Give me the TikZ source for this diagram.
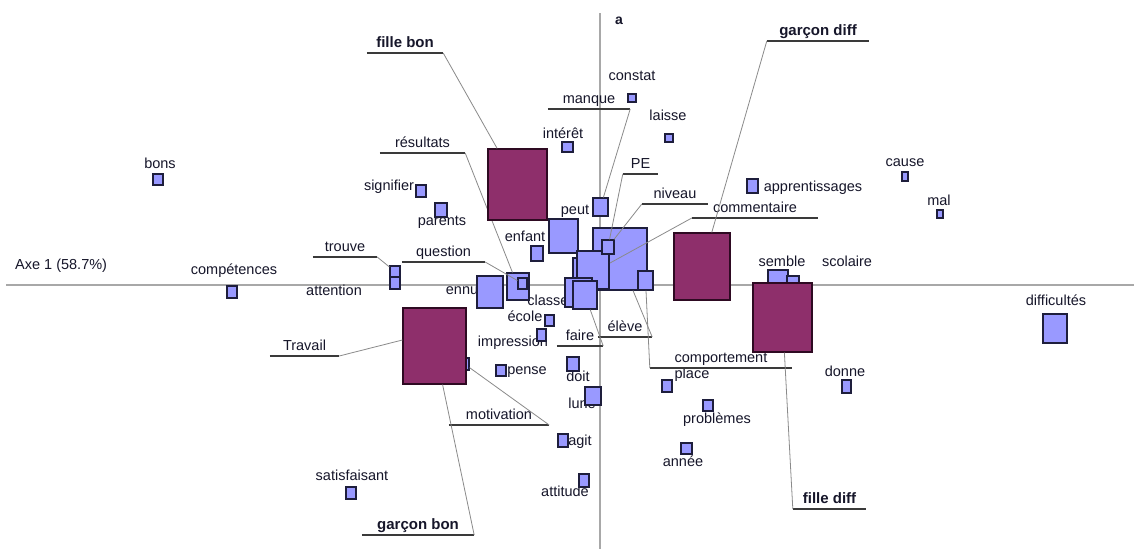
\documentclass[tikz,border=0pt]{standalone}
\usepackage{fontspec}
\setmainfont{Liberation Sans}
\usetikzlibrary{fit,calc}
\definecolor{wfill}{HTML}{9999FF}
\definecolor{wline}{HTML}{1E1E3C}
\definecolor{whalo}{HTML}{C4C4FF}
\definecolor{pfill}{HTML}{8E2F6B}
\definecolor{pline}{HTML}{2E0A22}
\definecolor{phalo}{HTML}{C77FA8}
\definecolor{axisc}{HTML}{A8A8A8}
\definecolor{leadc}{HTML}{8A8A8A}
\definecolor{ulc}{HTML}{3A3A3A}
\definecolor{txtc}{HTML}{16162A}
\tikzset{
  wbox/.style={draw=wline, fill=wfill, line width=1.2pt, inner sep=0pt, preaction={draw=whalo, line width=2.6pt}},
  pbox/.style={draw=pline, fill=pfill, line width=1.2pt, inner sep=0pt, preaction={draw=phalo, line width=2.4pt}},
  lbl/.style={font=\fontsize{14.5}{17}\selectfont, text=txtc, inner sep=0pt, text height=10.5pt, text depth=3pt},
  ullbl/.style={lbl, anchor=south, inner xsep=0pt, inner ysep=1.6pt, text depth=3.4pt},
  grp/.style={font=\fontsize{15}{18}\selectfont\bfseries},
  ulline/.style={draw=ulc, line width=1.1pt},
  lead/.style={draw=leadc, line width=0.8pt},
  axisline/.style={draw=axisc, line width=1.3pt}
}
\newcommand\wsq[5]{\node[wbox, fit={(#2,#3) (#4,#5)}] (#1) {};}
\newcommand\psq[5]{\node[pbox, fit={(#2,#3) (#4,#5)}] (#1) {};}
\newcommand\lab[4]{\node[lbl] (#1) at (#2,#3) {#4};}
\newcommand\ulab[6][]{\node[ullbl, #1, minimum width={#4-#3}] (#2) at ({(#3+#4)/2},#5) {#6};
  \draw[ulline] (#2.south west) -- (#2.south east);}
\begin{document}
\begin{tikzpicture}[x=1pt,y=-1pt]
\fill[white] (0,0) rectangle (1134,549);
\useasboundingbox (0,0) rectangle (1134,549);
% axes
\coordinate (ax1a) at (6,285);
\coordinate (ax1b) at (1134,285);
\coordinate (ax2a) at (600,13);
\coordinate (ax2b) at (600,549);
\draw[axisline] (ax1a) -- (ax1b);
\draw[axisline] (ax2a) -- (ax2b);
\node[lbl, anchor=west] (axe1) at (15,266) {Axe 1 (58.7\%)};
\node[lbl, font=\fontsize{14}{16}\selectfont\bfseries] (axe2) at (619,21) {a};
% plain labels
\lab{bons}{160}{165}{bons}
\lab{compet}{234}{271}{compétences}
\lab{attention}{334}{292}{attention}
\lab{signifier}{389}{187}{signifier}
\lab{parents}{442}{222}{parents}
\lab{enfant}{525}{238}{enfant}
\lab{ennu}{462}{291}{ennu}
\lab{classe}{548}{302}{classe}
\lab{ecole}{525}{318}{école}
\lab{impression}{513}{343}{impression}
\lab{pense}{527}{371}{pense}
\lab{doit}{578}{378}{doit}
\lab{lune}{582}{405}{lune}
\lab{agit}{580}{442}{agit}
\lab{attitude}{565}{493}{attitude}
\lab{satisf}{352}{477}{satisfaisant}
\lab{annee}{683}{463}{année}
\lab{problemes}{717}{420}{problèmes}
\lab{place}{692}{375}{place}
\lab{donne}{845}{373}{donne}
\lab{interet}{563}{135}{intérêt}
\lab{constat}{632}{77}{constat}
\lab{laisse}{668}{117}{laisse}
\lab{peut}{575}{211}{peut}
\lab{apprent}{813}{188}{apprentissages}
\lab{cause}{905}{163}{cause}
\lab{mal}{939}{202}{mal}
\lab{semble}{782}{263}{semble}
\lab{scolaire}{847}{263}{scolaire}
\lab{difficultes}{1056}{302}{difficultés}
% underlined labels
\ulab[grp]{fillebon}{367}{443}{53}{fille bon}
\ulab{resultats}{380}{465}{153}{résultats}
\ulab{manque}{548}{630}{109}{manque}
\ulab{PE}{623}{658}{174}{PE}
\ulab{niveau}{642}{708}{204}{niveau}
\ulab{comment}{692}{818}{218}{commentaire}
\ulab[grp]{garcondiff}{767}{869}{41}{garçon diff}
\ulab{trouve}{313}{377}{257}{trouve}
\ulab{question}{402}{485}{262}{question}
\ulab{travail}{270}{339}{356}{Travail}
\ulab{motivation}{449}{549}{425}{motivation}
\ulab[grp]{garconbon}{362}{474}{535}{garçon bon}
\ulab{faire}{557}{603}{346}{faire}
\ulab{eleve}{598}{652}{337}{élève}
\ulab{comport}{650}{792}{368}{comportement}
\ulab[grp]{fillediff}{793}{866}{509}{fille diff}
% word squares
\wsq{sq-bons}{153}{174}{163}{185}
\wsq{sq-compet}{227}{286}{237}{298}
\wsq{sq-trouve}{390}{266}{400}{277}
\wsq{sq-attention}{390}{277}{400}{289}
\wsq{sq-signifier}{416}{185}{426}{197}
\wsq{sq-parents}{435}{203}{447}{217}
\wsq{sq-enfant}{531}{246}{543}{261}
\wsq{sq-ennu}{477}{276}{503}{308}
\wsq{sq-res}{507}{273}{529}{300}
\wsq{sq-quest}{518}{278}{527}{289}
\wsq{sq-bigl}{549}{219}{578}{253}
\wsq{sq-peut}{593}{198}{608}{216}
\wsq{sq-bigc}{593}{228}{647}{290}
\wsq{sq-back}{573}{258}{600}{290}
\wsq{sq-med}{577}{251}{609}{289}
\wsq{sq-small}{602}{240}{614}{254}
\wsq{sq-c17}{565}{278}{592}{307}
\wsq{sq-c18}{573}{281}{597}{309}
\wsq{sq-rs}{638}{271}{653}{290}
\wsq{sq-ecole}{545}{315}{554}{326}
\wsq{sq-impr}{537}{329}{546}{341}
\wsq{sq-pense}{496}{365}{506}{376}
\wsq{sq-doit}{567}{357}{579}{371}
\wsq{sq-lune}{585}{387}{601}{405}
\wsq{sq-agit}{558}{434}{568}{447}
\wsq{sq-attitude}{579}{474}{589}{487}
\wsq{sq-satisf}{346}{487}{356}{499}
\wsq{sq-annee}{681}{443}{692}{454}
\wsq{sq-problemes}{703}{400}{713}{411}
\wsq{sq-place}{662}{380}{672}{392}
\wsq{sq-donne}{842}{380}{851}{393}
\wsq{sq-interet}{562}{142}{573}{152}
\wsq{sq-constat}{628}{94}{636}{102}
\wsq{sq-laisse}{665}{134}{673}{142}
\wsq{sq-apprent}{747}{179}{758}{193}
\wsq{sq-cause}{902}{172}{908}{181}
\wsq{sq-mal}{937}{210}{943}{218}
\wsq{sq-semble}{768}{270}{788}{283}
\wsq{sq-scol}{787}{276}{799}{283}
\wsq{sq-diff}{1043}{314}{1067}{343}
\wsq{sq-motiv}{460}{358}{469}{370}
% leaders
\draw[lead] (resultats.south east) -- (sq-res);
\draw[lead] (manque.south east) -- (sq-peut);
\draw[lead] (PE.south west) -- (sq-small);
\draw[lead] (niveau.south west) -- (sq-small);
\draw[lead] (comment.south west) -- ([xshift=-10pt,yshift=-4pt]sq-bigc.center);
\draw[lead] (trouve.south east) -- (sq-trouve);
\draw[lead] (question.south east) -- (sq-quest);
\draw[lead] (motivation.south east) -- (sq-motiv);
\draw[lead] (faire.south east) -- (sq-c18);
\draw[lead] (eleve.south east) -- (sq-bigc);
\draw[lead] (comport.south west) -- (sq-rs);
% group squares
\psq{fbsq}{488}{149}{547}{220}
\psq{gdsq}{674}{233}{730}{300}
\psq{fdsq}{753}{283}{812}{352}
\psq{gbsq}{403}{308}{466}{384}
\draw[lead] (fillebon.south east) -- (fbsq);
\draw[lead] (garcondiff.south west) -- (gdsq);
\draw[lead] (travail.south east) -- ([yshift=6pt]gbsq.west);
\draw[lead] (garconbon.south east) -- (gbsq);
\draw[lead] (fillediff.south west) -- (fdsq);
\end{tikzpicture}
\end{document}
